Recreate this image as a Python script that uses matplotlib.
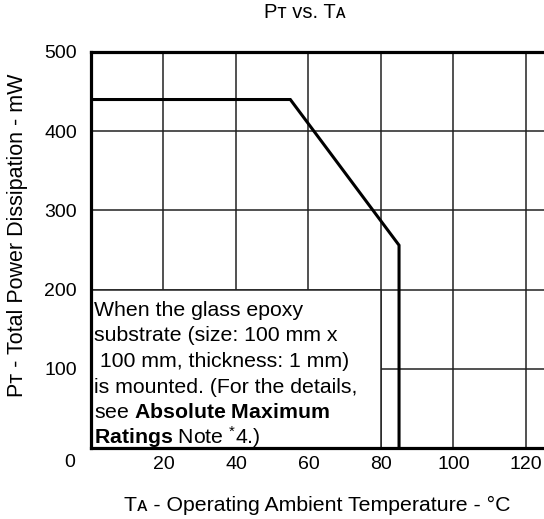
import numpy as np
import matplotlib
matplotlib.use('Agg')
import matplotlib.pyplot as plt
from matplotlib.patches import Rectangle

plt.rcParams['font.family'] = ['Liberation Sans', 'DejaVu Sans']
plt.rcParams['mathtext.fontset'] = 'custom'
plt.rcParams['mathtext.rm'] = 'Liberation Sans'
plt.rcParams['mathtext.bf'] = 'Liberation Sans:bold'
plt.rcParams['mathtext.it'] = 'Liberation Sans:italic'

# derating curve: ambient temperature (degC) vs total power dissipation (mW)
temp = [0, 55, 85, 85]
power = [440, 440, 256, 0]

x_ticks = [20, 40, 60, 80, 100, 120]
y_ticks = [100, 200, 300, 400, 500]
x_lim = (0, 125)
y_lim = (0, 500)

# note box covers this part of the grid
box_t = 80
box_p = 200
note_lines = [
    "When the glass epoxy",
    "substrate (size: 100 mm x",
    " 100 mm, thickness: 1 mm)",
    "is mounted. (For the details,",
    r"see $\mathbf{Absolute\ Maximum}$",
    r"$\mathbf{Ratings}$ Note $^{*}$4.)",
]

W, H = 544, 519
fig = plt.figure(figsize=(W / 100, H / 100), dpi=100)
ax = fig.add_axes([91 / W, 1 - 448 / H, (W - 91) / W, (448 - 52) / H])

ax.set_xlim(*x_lim)
ax.set_ylim(*y_lim)
ax.set_xticks(x_ticks)
ax.set_yticks(y_ticks)
ax.tick_params(length=0, labelsize=14, pad=10)
ax.tick_params(axis='x', pad=6)
ax.grid(True, color='#222222', linewidth=1.1, zorder=1)
ax.set_axisbelow(True)

for s in ['left', 'top', 'bottom']:
    ax.spines[s].set_linewidth(2.3)
    ax.spines[s].set_zorder(6)
ax.spines['right'].set_visible(False)

ax.add_patch(Rectangle((0, 0), box_t, box_p, facecolor='white',
                       edgecolor='#222222', linewidth=1.1, zorder=3))
for i, line in enumerate(note_lines):
    ax.annotate(line, xy=(0, box_p), xycoords='data',
                xytext=(2.4, -18.7 - 18.5 * i), textcoords='offset points',
                fontsize=15.3, va='baseline', ha='left', zorder=4)

ax.plot(temp, power, color='black', linewidth=2.2, zorder=5,
        solid_joinstyle='miter')

ax.annotate('0', xy=(0, 0), xycoords='axes fraction', xytext=(-15, -10.5),
            textcoords='offset points', ha='center', va='center', fontsize=14)

fig.text(305 / W, 1 - 12 / H, 'P\u1d1b vs. T\u1d00', ha='center', va='center',
         fontsize=14.5)
fig.text(317 / W, 1 - 505 / H, 'T\u1d00 - Operating Ambient Temperature - \u00b0C',
         ha='center', va='center', fontsize=15.3)
fig.text(18 / W, 1 - 235 / H, 'P\u1d1b - Total Power Dissipation - mW',
         ha='center', va='center', rotation=90, fontsize=15.5)

fig.savefig('out.png', dpi=100)
